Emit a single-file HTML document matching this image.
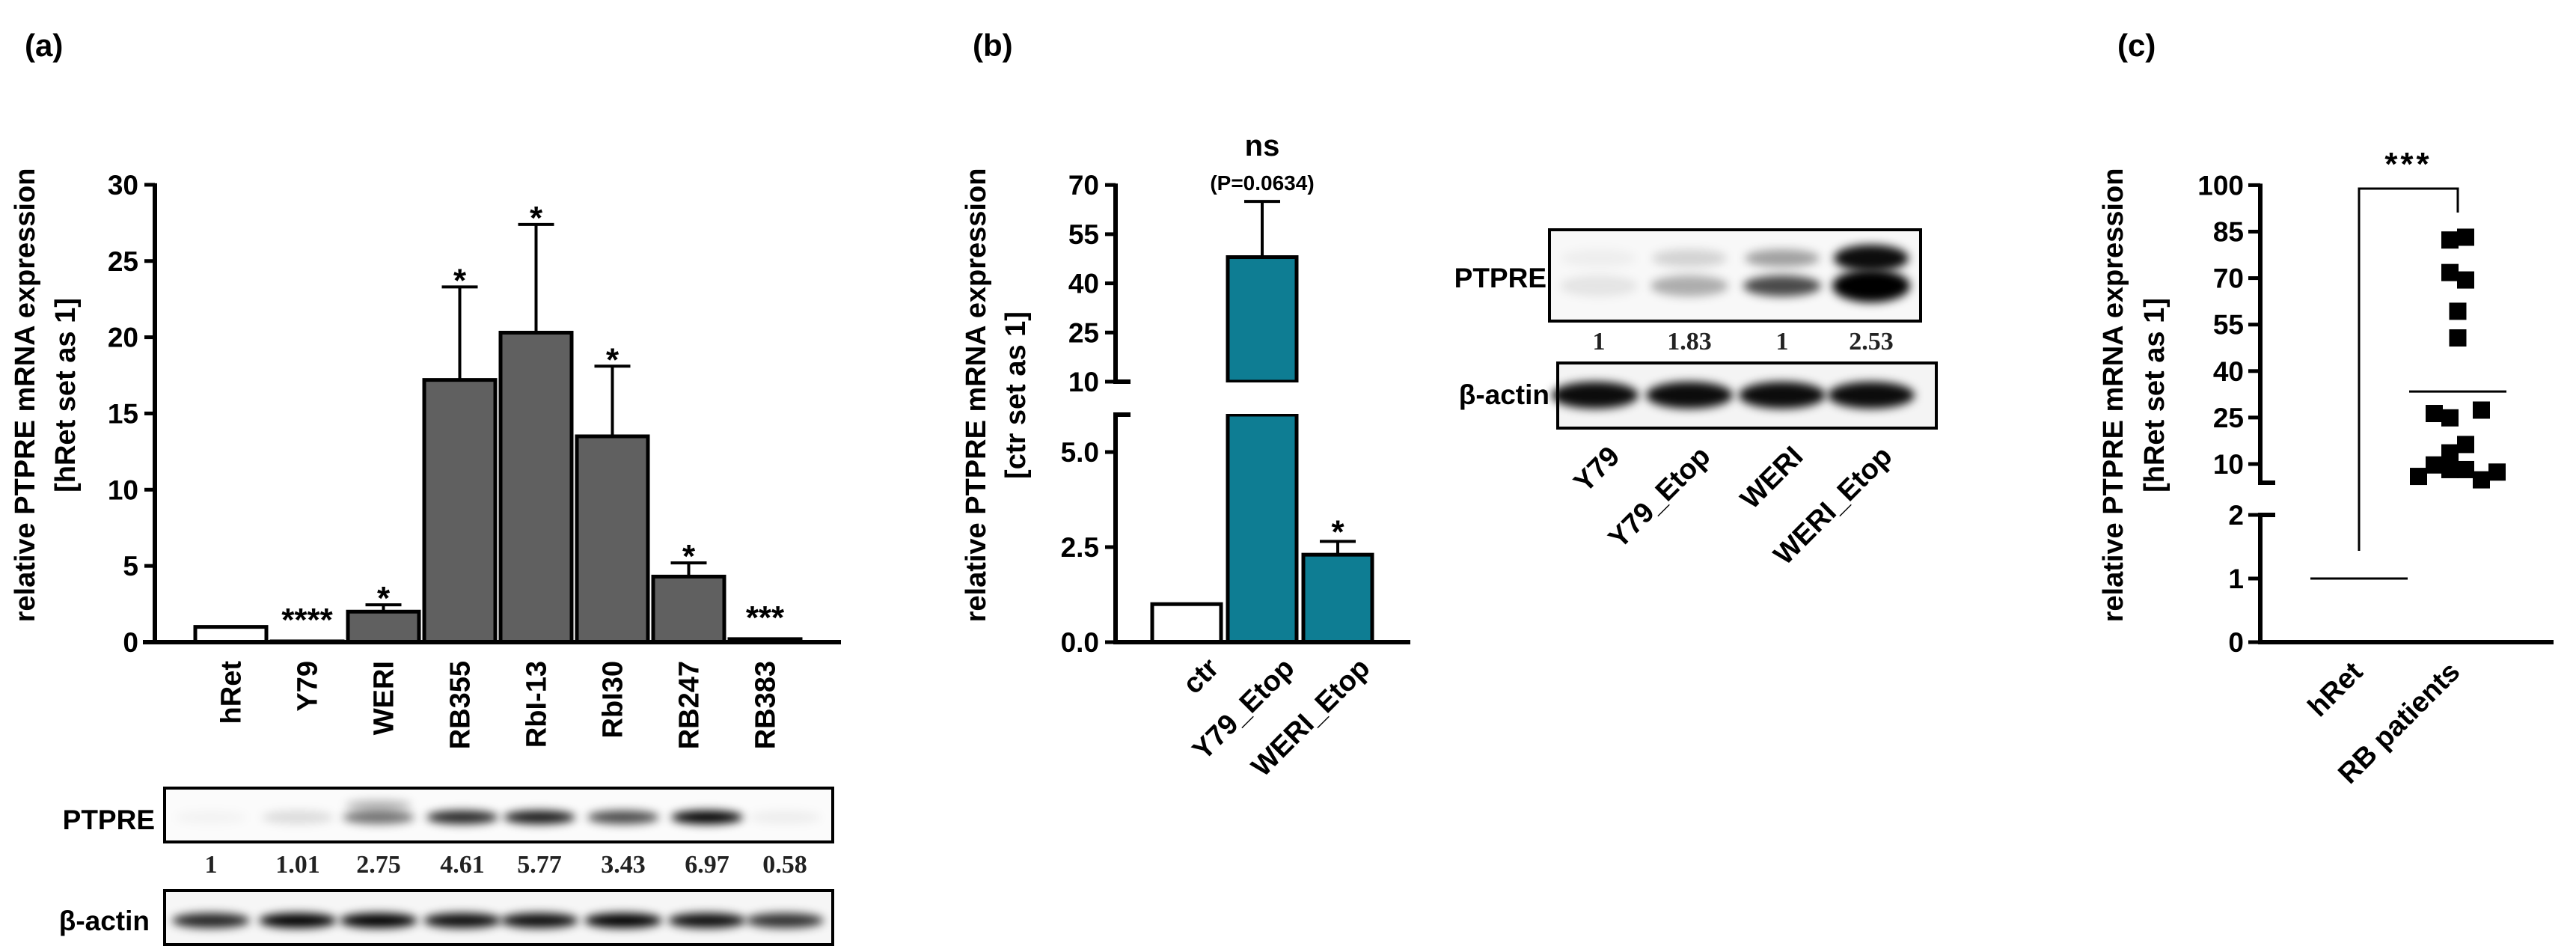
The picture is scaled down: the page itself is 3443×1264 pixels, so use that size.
<!DOCTYPE html>
<html><head><meta charset="utf-8"><style>
html,body{margin:0;padding:0;background:#fff}
svg{display:block;font-family:"Liberation Sans",Arial,sans-serif;font-weight:bold}
</style></head><body>
<svg id="fig" width="3443" height="1264" viewBox="0 0 3443 1264" xmlns="http://www.w3.org/2000/svg">
<defs>
<filter id="blur6" x="-50%" y="-200%" width="200%" height="500%"><feGaussianBlur stdDeviation="6"/></filter>
<filter id="blur10" x="-50%" y="-200%" width="200%" height="500%"><feGaussianBlur stdDeviation="10"/></filter>
</defs>
<text x="33" y="75" font-size="42">(a)</text>
<text x="1300" y="75" font-size="42">(b)</text>
<text x="2830" y="75" font-size="42">(c)</text>
<g id="ga"></g>
<g id="gb"></g>
<g id="gc"></g>
</svg>
<script>
// Panel (a)
const aCats=["hRet","Y79","WERI","RB355","RbI-13","RbI30","RB247","RB383"];
const aVals=[1,0.05,2.0,17.2,20.3,13.5,4.3,0.2];
const aErr=[0,0,0.45,6.1,7.1,4.6,0.9,0];
const aSig=["","****","*","*","*","*","*","***"];
const aTicks=[0,5,10,15,20,25,30];
const aBlotNums=["1","1.01","2.75","4.61","5.77","3.43","6.97","0.58"];
const aBandPTPRE=[0.03,0.12,0.55,0.85,0.9,0.7,1.0,0.05];
const aBandActin=[0.85,1,1,0.95,0.95,1,0.95,0.8];
// Panel (b)
const bCats=["ctr","Y79_Etop","WERI_Etop"];
const bVals=[1,48,2.3];
const bErr=[0,17,0.35];
const bLowTicks=[0,2.5,5.0];
const bHighTicks=[10,25,40,55,70];
const bBlotCats=["Y79","Y79_Etop","WERI","WERI_Etop"];
const bBlotNums=["1","1.83","1","2.53"];
const bBandPTPRE=[0.08,0.3,0.7,1.0];
// Panel (c)
const cHighTicks=[10,25,40,55,70,85,100];
const cLowTicks=[0,1,2];
const cPatients=[82.3,83.2,71.8,69.4,59.3,50.7,26.3,24.9,27.4,16.3,13.6,9.7,8.2,8.2,6.0,4.9,7.4];
const cSlots=[-0.5,0.5,-0.5,0.5,0,0,-1.5,-0.5,1.5,0.5,-0.5,-1.5,-0.5,0.5,-2.5,1.5,2.5];
const cHRet=1;
const cMean=33.4;

const NS="http://www.w3.org/2000/svg";
function mk(p,tag,at,txt){const e=document.createElementNS(NS,tag);for(const k in at)e.setAttribute(k,at[k]);if(txt!==undefined)e.textContent=txt;p.appendChild(e);return e;}

/* ---------- Panel A ---------- */
(function(){
const g=document.getElementById('ga');
const y0=858,pxu=20.37,ax=207;
const ya=v=>y0-v*pxu;
const x0=261,step=102,bw=95;
const cx=i=>x0+i*step+bw/2;
let t=mk(g,'text',{x:0,y:0,'font-size':38,'text-anchor':'middle',transform:'translate(46,528) rotate(-90)'},'relative PTPRE mRNA expression');

t=mk(g,'text',{x:0,y:0,'font-size':38,'text-anchor':'middle',transform:'translate(100,528) rotate(-90)'},'[hRet set as 1]');

aVals.forEach((v,i)=>{
  const top=ya(v);
  const r=mk(g,'rect',{x:x0+i*step,y:top,width:bw,height:y0-top,fill:i===0?'#fff':'#606060',stroke:'#000','stroke-width':5});
  
  if(aErr[i]>0){const ye=ya(v+aErr[i]);
    const l=mk(g,'path',{d:`M${cx(i)},${top} V${ye} M${cx(i)-24},${ye} H${cx(i)+24}`,stroke:'#000','stroke-width':4,fill:'none'});
    }
  if(aSig[i]){const sy=aErr[i]>0?ya(v+aErr[i])+6:ya(v)-14;
    const s=mk(g,'text',{x:cx(i),y:sy,'font-size':44,'text-anchor':'middle'},aSig[i]);
    }
  const lb=mk(g,'text',{x:0,y:0,'font-size':38,'text-anchor':'end',transform:`translate(${cx(i)+13},883) rotate(-90)`},aCats[i]);
  
});
aTicks.forEach(v=>{
  const tk=mk(g,'line',{x1:ax-14,x2:ax,y1:ya(v),y2:ya(v),stroke:'#000','stroke-width':5});
  
  const tl=mk(g,'text',{x:ax-22,y:ya(v)+13,'font-size':37,'text-anchor':'end'},String(v));
  
});
let ln=mk(g,'line',{x1:ax,x2:ax,y1:ya(30)-2,y2:y0+3,stroke:'#000','stroke-width':6});

ln=mk(g,'line',{x1:191,x2:1124,y1:y0,y2:y0,stroke:'#000','stroke-width':6});

const lanes=[282,398,506,618,721,833,945,1049];
let bx=mk(g,'rect',{x:220,y:1053,width:893,height:72,fill:'#fbfbfb',stroke:'#000','stroke-width':4});

aBandPTPRE.forEach((s,i)=>{
  const e=mk(g,'ellipse',{cx:lanes[i],cy:1092,rx:48,ry:9,fill:'#000','fill-opacity':s,filter:'url(#blur6)'});
  
  if(s>0.3&&s<0.7){const e2=mk(g,'ellipse',{cx:lanes[i],cy:1076,rx:44,ry:7,fill:'#000','fill-opacity':s*0.5,filter:'url(#blur6)'});
    }
  const n=mk(g,'text',{x:lanes[i],y:1166,'font-size':34,'text-anchor':'middle','font-family':'"Liberation Serif",serif','fill':'#222'},aBlotNums[i]);
  
});
bx=mk(g,'rect',{x:220,y:1190,width:893,height:72,fill:'#f6f6f6',stroke:'#000','stroke-width':4});

aBandActin.forEach((s,i)=>{
  const e=mk(g,'ellipse',{cx:lanes[i],cy:1230,rx:52,ry:10,fill:'#000','fill-opacity':s,filter:'url(#blur6)'});
  
});
t=mk(g,'text',{x:207,y:1108,'font-size':37,'text-anchor':'end'},'PTPRE');
t=mk(g,'text',{x:200,y:1243,'font-size':37,'text-anchor':'end'},'β-actin');
})();

/* ---------- Panel B ---------- */
(function(){
const g=document.getElementById('gb');
const ax=1491,y0=858,pl=50.8,lowTop=554,hi10=510,ph=4.38;
const yb=v=> v<=6 ? y0-v*pl : hi10-(v-10)*ph;
const x0=1540,step=101,bw=92;const cx=i=>x0+i*step+bw/2;
let t=mk(g,'text',{x:0,y:0,'font-size':38,'text-anchor':'middle',transform:'translate(1317,528) rotate(-90)'},'relative PTPRE mRNA expression');

t=mk(g,'text',{x:0,y:0,'font-size':38,'text-anchor':'middle',transform:'translate(1370,528) rotate(-90)'},'[ctr set as 1]');

bVals.forEach((v,i)=>{
  const fill=i===0?'#fff':'#0e7d93';
  if(v>6){
    const r1=mk(g,'rect',{x:x0+i*step,y:yb(v),width:bw,height:hi10-yb(v),fill:fill,stroke:'#000','stroke-width':5});
    
    const r2=mk(g,'rect',{x:x0+i*step,y:lowTop,width:bw,height:y0-lowTop,fill:fill,stroke:'#000','stroke-width':5});
    
    const gap=mk(g,'rect',{x:x0+i*step-4,y:hi10+1,width:bw+8,height:lowTop-hi10-2,fill:'#fff'});
    
  } else {
    const r=mk(g,'rect',{x:x0+i*step,y:yb(v),width:bw,height:y0-yb(v),fill:fill,stroke:'#000','stroke-width':5});
    
  }
  if(bErr[i]>0){const ye=yb(v+bErr[i]);
    const l=mk(g,'path',{d:`M${cx(i)},${yb(v)} V${ye} M${cx(i)-24},${ye} H${cx(i)+24}`,stroke:'#000','stroke-width':4,fill:'none'});
    }
  const lb=mk(g,'text',{x:0,y:0,'font-size':38,'text-anchor':'end',transform:`translate(${cx(i)+45},895) rotate(-45)`},bCats[i]);
  
});
t=mk(g,'text',{x:cx(2),y:yb(bVals[2]+bErr[2])+2,'font-size':44,'text-anchor':'middle'},'*');

t=mk(g,'text',{x:cx(1),y:208,'font-size':40,'text-anchor':'middle'},'ns');

t=mk(g,'text',{x:cx(1),y:254,'font-size':28,'text-anchor':'middle'},'(P=0.0634)');

bLowTicks.concat(bHighTicks).forEach(v=>{
  const tk=mk(g,'line',{x1:ax-14,x2:ax,y1:yb(v),y2:yb(v),stroke:'#000','stroke-width':5});
  
  const tl=mk(g,'text',{x:ax-22,y:yb(v)+13,'font-size':37,'text-anchor':'end'},v<10?v.toFixed(1):String(v));
  
});
let ln=mk(g,'path',{d:`M${ax},${yb(70)-2} V${hi10} H${ax+20} M${ax+20},${lowTop} H${ax} V${y0+3}`,stroke:'#000','stroke-width':6,fill:'none'});

ln=mk(g,'line',{x1:ax-3,x2:1885,y1:y0,y2:y0,stroke:'#000','stroke-width':6});

const lanes=[2137,2258,2382,2501];
let bx=mk(g,'rect',{x:2071,y:307,width:496,height:122,fill:'#f8f8f8',stroke:'#000','stroke-width':4});

bBandPTPRE.forEach((s,i)=>{
  let e=mk(g,'ellipse',{cx:lanes[i],cy:382,rx:52,ry:s>0.9?22:14,fill:'#000','fill-opacity':s,filter:'url(#blur6)'});
  
  e=mk(g,'ellipse',{cx:lanes[i],cy:345,rx:50,ry:s>0.9?18:12,fill:'#000','fill-opacity':s*(s>0.9?0.95:0.5),filter:'url(#blur6)'});
  
  const n=mk(g,'text',{x:lanes[i],y:467,'font-size':34,'text-anchor':'middle','font-family':'"Liberation Serif",serif',fill:'#222'},bBlotNums[i]);
  
  const lb=mk(g,'text',{x:0,y:0,'font-size':38,'text-anchor':'end',transform:`translate(${lanes[i]+30},612) rotate(-45)`},bBlotCats[i]);
  
});
bx=mk(g,'rect',{x:2082,y:485,width:506,height:87,fill:'#f4f4f4',stroke:'#000','stroke-width':4});

lanes.forEach((lx,i)=>{
  const e=mk(g,'ellipse',{cx:lx+(i===0?-5:0),cy:528,rx:58,ry:18,fill:'#000','fill-opacity':0.95,filter:'url(#blur6)'});
  
});
t=mk(g,'text',{x:2067,y:384,'font-size':37,'text-anchor':'end'},'PTPRE');
t=mk(g,'text',{x:2071,y:540,'font-size':37,'text-anchor':'end'},'β-actin');
})();

/* ---------- Panel C ---------- */
(function(){
const g=document.getElementById('gc');
const ax=3021,y0=858,pl=85,hi10=620,ph=4.14,breakHi=645,lowTop=688;
const yc=v=> v<=2.5 ? y0-v*pl : hi10-(v-10)*ph;
const hx=3153,px=3285,slot=21,sq=23;
let t=mk(g,'text',{x:0,y:0,'font-size':38,'text-anchor':'middle',transform:'translate(2837,528) rotate(-90)'},'relative PTPRE mRNA expression');

t=mk(g,'text',{x:0,y:0,'font-size':38,'text-anchor':'middle',transform:'translate(2892,528) rotate(-90)'},'[hRet set as 1]');

cLowTicks.concat(cHighTicks).forEach(v=>{
  const tk=mk(g,'line',{x1:ax-16,x2:ax,y1:yc(v),y2:yc(v),stroke:'#000','stroke-width':5});
  
  const tl=mk(g,'text',{x:ax-22,y:yc(v)+13,'font-size':37,'text-anchor':'end'},String(v));
  
});
let ln=mk(g,'path',{d:`M${ax},${yc(100)-2} V${breakHi} H${ax+20} M${ax+20},${lowTop} H${ax} V${y0+3}`,stroke:'#000','stroke-width':6,fill:'none'});

ln=mk(g,'line',{x1:ax-3,x2:3413,y1:y0,y2:y0,stroke:'#000','stroke-width':6});

ln=mk(g,'line',{x1:hx-65,x2:hx+65,y1:yc(cHRet),y2:yc(cHRet),stroke:'#000','stroke-width':3});

cPatients.forEach((v,i)=>{
  const r=mk(g,'rect',{x:px+cSlots[i]*slot-sq/2,y:yc(v)-sq/2,width:sq,height:sq,fill:'#000'});
  
});
ln=mk(g,'line',{x1:px-65,x2:px+65,y1:yc(cMean),y2:yc(cMean),stroke:'#000','stroke-width':3});

ln=mk(g,'path',{d:`M${hx},736 V252 H${px} V284`,stroke:'#000','stroke-width':3,fill:'none'});

t=mk(g,'text',{x:(hx+px)/2,y:234,'font-size':44,'text-anchor':'middle','letter-spacing':'4'},'***');

t=mk(g,'text',{x:0,y:0,'font-size':38,'text-anchor':'end',transform:'translate(3160,900) rotate(-45)'},'hRet');

t=mk(g,'text',{x:0,y:0,'font-size':38,'text-anchor':'end',transform:'translate(3290,900) rotate(-45)'},'RB patients');

})();
</script>
</body></html>
